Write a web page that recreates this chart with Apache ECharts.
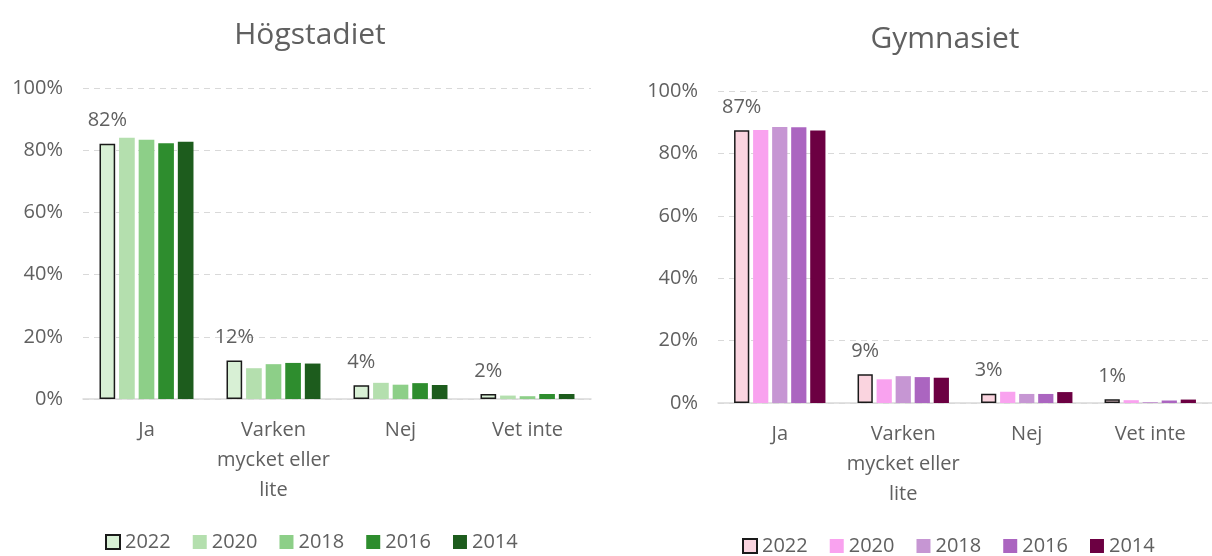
<!DOCTYPE html>
<html>
<head>
<meta charset="utf-8">
<script src="https://cdn.jsdelivr.net/npm/echarts@6/dist/echarts.min.js"></script>
<style>
  html, body { margin: 0; padding: 0; background: #fff; }
  #wrap { width: 1212px; height: 556px; position: relative; overflow: hidden; }
  .panel { position: absolute; top: 0; width: 606px; height: 556px; }
</style>
</head>
<body>
<div id="wrap">
  <div id="chartHog" class="panel" style="left: 0"></div>
  <div id="chartGym" class="panel" style="left: 606px"></div>
</div>
<script>
// kategorier och år
const categories = ['Ja', 'Varken\nmycket eller\nlite', 'Nej', 'Vet inte'];
const years = ['2022', '2020', '2018', '2016', '2014'];
const yTicks = [0, 20, 40, 60, 80, 100];

// Högstadiet (%)
const hog2022 = [82.1, 12.4, 4.4, 1.6];
const hog2020 = [84.0, 9.9, 5.2, 1.1];
const hog2018 = [83.4, 11.2, 4.6, 0.9];
const hog2016 = [82.2, 11.6, 5.1, 1.6];
const hog2014 = [82.7, 11.4, 4.5, 1.6];

// Gymnasiet (%)
const gym2022 = [87.4, 9.2, 3.0, 1.2];
const gym2020 = [87.5, 7.6, 3.6, 0.9];
const gym2018 = [88.5, 8.6, 2.9, 0.3];
const gym2016 = [88.4, 8.3, 2.9, 0.8];
const gym2014 = [87.3, 8.1, 3.5, 1.1];

const textColor = '#606060';
const fontFamily = '"Open Sans", "Noto Sans", sans-serif';

function buildOption(cfg) {
    const series = cfg.data.map((values, i) => ({
        type: 'bar',
        name: years[i],
        data: values,
        barGap: '25%',
        barCategoryGap: '26%',
        itemStyle: i === 0
            ? { color: cfg.colors[i], borderColor: '#1a1a1a', borderWidth: 1.5 }
            : { color: cfg.colors[i] },
        label: {
            show: i === 0,
            position: 'top',
            distance: 13,
            color: textColor,
            fontFamily: fontFamily,
            fontSize: 20,
            formatter: (p) => Math.round(p.value) + '%'
        },
        emphasis: { disabled: true }
    }));

    return {
        animation: false,
        backgroundColor: '#fff',
        title: {
            text: cfg.title,
            left: cfg.titleX,
            top: cfg.titleTop,
            textAlign: 'center',
            textStyle: {
                color: textColor,
                fontFamily: fontFamily,
                fontWeight: 'normal',
                fontSize: 30
            }
        },
        legend: {
            left: cfg.legendLeft,
            top: cfg.legendTop,
            itemWidth: 14,
            itemHeight: 14,
            itemGap: cfg.legendGap,
            icon: 'rect',
            data: years,
            textStyle: {
                color: textColor,
                fontFamily: fontFamily,
                fontSize: 20
            }
        },
        grid: cfg.grid,
        xAxis: {
            type: 'category',
            data: categories,
            axisTick: { show: false },
            axisLine: { lineStyle: { color: '#d9d9d9', width: 1.5 } },
            axisLabel: {
                color: textColor,
                fontFamily: fontFamily,
                fontSize: 20,
                lineHeight: 30,
                margin: 16,
                interval: 0
            }
        },
        yAxis: {
            type: 'value',
            min: yTicks[0],
            max: yTicks[yTicks.length - 1],
            interval: 20,
            axisLine: { show: false },
            axisTick: { show: false },
            axisLabel: {
                color: textColor,
                fontFamily: fontFamily,
                fontSize: 20,
                margin: 20,
                formatter: '{value}%'
            },
            splitLine: {
                lineStyle: { color: '#d9d9d9', type: [6, 5], width: 1 }
            }
        },
        series: series
    };
}

const hogChart = echarts.init(document.getElementById('chartHog'));
hogChart.setOption(buildOption({
    title: 'Högstadiet',
    titleX: 305,
    titleTop: 15,
    legendLeft: 100,
    legendTop: 527,
    legendGap: 22,
    grid: { left: 83, right: 15, top: 88, bottom: 157 },
    colors: ['#d8f0d5', '#b4dfae', '#8dcf88', '#2e8d2e', '#1d5c1d'],
    data: [hog2022, hog2020, hog2018, hog2016, hog2014]
}));

const gymChart = echarts.init(document.getElementById('chartGym'));
gymChart.setOption(buildOption({
    title: 'Gymnasiet',
    titleX: 334,
    titleTop: 19,
    legendLeft: 131,
    legendTop: 531,
    legendGap: 22,
    grid: { left: 112, right: -15, top: 91, bottom: 153 },
    colors: ['#fad4df', '#f9a2ef', '#c696d3', '#ab65c0', '#6c0042'],
    data: [gym2022, gym2020, gym2018, gym2016, gym2014]
}));
</script>
</body>
</html>
